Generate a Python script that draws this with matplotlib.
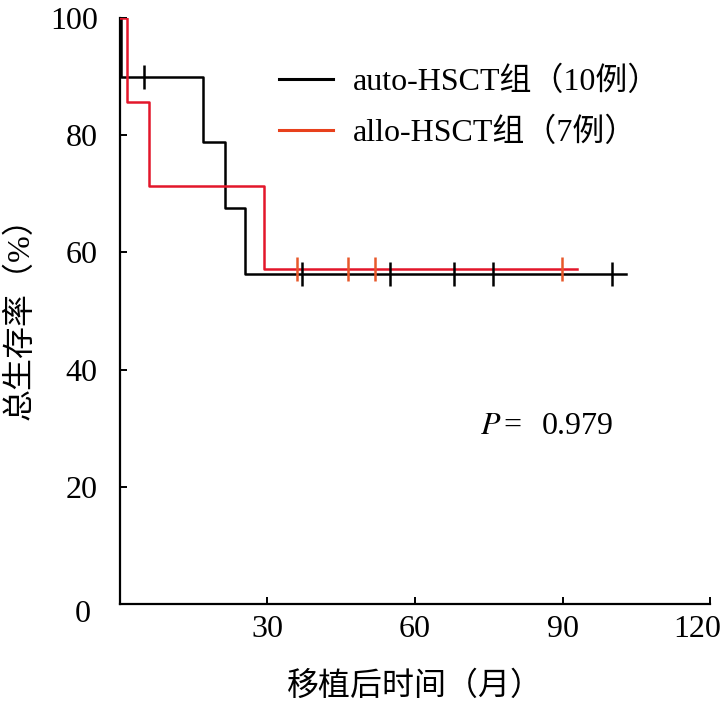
import matplotlib
matplotlib.use("Agg")
from matplotlib import pyplot as plt
from matplotlib.lines import Line2D
import matplotlib.transforms as mtransforms

plt.rcParams['font.family'] = ['Liberation Serif', 'Noto Sans CJK SC']

# Kaplan-Meier steps (months, survival %)
auto_t = [0, 0.3, 16.9, 21.4, 25.5, 103]
auto_s = [100, 90, 78.75, 67.5, 56.25, 56.25]
auto_cens_t = [4.9, 37.0, 54.9, 67.9, 75.8, 100.0]
auto_cens_s = [90, 56.25, 56.25, 56.25, 56.25, 56.25]

allo_t = [0, 1.4, 5.9, 29.2, 93]
allo_s = [100, 85.7, 71.4, 57.1, 57.1]
allo_cens_t = [36.0, 46.3, 51.8, 89.8]
allo_cens_s = [57.1, 57.1, 57.1, 57.1]

x_ticks = [30, 60, 90, 120]
y_ticks = [0, 20, 40, 60, 80, 100]
labels = ["auto-HSCT组（10例）", "allo-HSCT组（7例）"]

black = "#000000"
red = "#e3162a"
orange = "#e8582a"
FS = 23

fig = plt.figure(figsize=(7.24, 7.07), dpi=100)
ax = fig.add_axes([0.1657, 0.1457, 0.815, 0.8289])

ax.step(auto_t, auto_s, where="post", color=black, lw=1.8, zorder=3)
ax.step(allo_t, allo_s, where="post", color=red, lw=1.8, zorder=4)
ax.plot(auto_cens_t, auto_cens_s, ls="none", marker="|", ms=17, mew=1.8, color=black, zorder=5)
ax.plot(allo_cens_t, allo_cens_s, ls="none", marker="|", ms=17, mew=1.8, color=orange, zorder=6)

ax.set_xlim(0, 120)
ax.set_ylim(0, 100)
ax.set_xticks(x_ticks)
ax.set_yticks(y_ticks)
ax.set_yticklabels([str(v) for v in y_ticks])
ax.spines["top"].set_visible(False)
ax.spines["right"].set_visible(False)
for s in ["left", "bottom"]:
    ax.spines[s].set_linewidth(1.6)
ax.tick_params(axis="both", direction="in", length=5, width=1.4, labelsize=FS)
ax.tick_params(axis="x", pad=8)
ax.tick_params(axis="y", pad=16)

# origin label sits lower and a bit left, last x label pulled inward
lbl0 = ax.get_yticklabels()[0]
lbl0.set_transform(lbl0.get_transform() + mtransforms.ScaledTranslation(-7 / 100, -7 / 100, fig.dpi_scale_trans))
lbl120 = ax.get_xticklabels()[-1]
lbl120.set_transform(lbl120.get_transform() + mtransforms.ScaledTranslation(-13 / 100, 0, fig.dpi_scale_trans))

ax.set_xlabel("移植后时间（月）", fontsize=FS, labelpad=20)
ax.set_ylabel("总生存率（%）", fontsize=FS, labelpad=10)

handles = [Line2D([], [], color=black, lw=2.2), Line2D([], [], color="#e8401c", lw=2.2)]
ax.legend(handles, labels, frameon=False, fontsize=FS, loc="upper left",
          bbox_to_anchor=(0.22, 0.966), handlelength=1.72, handletextpad=0.62, labelspacing=0.65)

ax.text(0.610, 0.303, "$P$", transform=ax.transAxes, fontsize=FS, ha="left", va="center",
        math_fontfamily="stix")
ax.text(0.649, 0.303, "=", transform=ax.transAxes, fontsize=FS, ha="left", va="center")
ax.text(0.715, 0.303, "0.979", transform=ax.transAxes, fontsize=FS, ha="left", va="center")

plt.savefig("out.png", dpi=100)
